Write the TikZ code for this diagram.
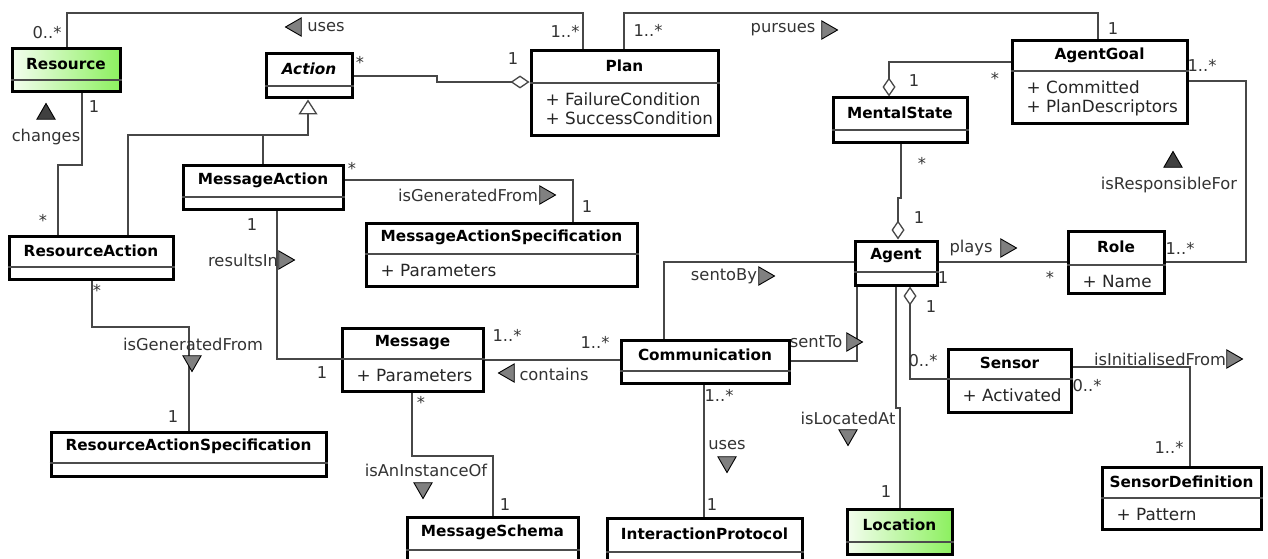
\documentclass[tikz,border=0pt]{standalone}
\usepackage{fontspec}
\setmainfont{DejaVu Sans}
\usetikzlibrary{arrows.meta,calc,fit,shapes.geometric}

\definecolor{umlgreen}{RGB}{140,240,95}
\pgfdeclarelayer{paper}
\pgfdeclarelayer{links}
\pgfsetlayers{paper,links,main}

\tikzset{
  classframe/.style={draw=black, line width=3pt, inner sep=0pt, fill=white},
  greenclass/.style={left color=umlgreen!10, right color=umlgreen},
  sepline/.style={draw=black!70, line width=1.2pt},
  classtitle/.style={font=\fontsize{15.3}{18}\selectfont\bfseries, inner sep=0pt},
  attr/.style={font=\fontsize{16.8}{19}\selectfont, inner sep=0pt, text=black!85},
  assoc/.style={draw=black!72, line width=1.3pt},
  lbl/.style={font=\fontsize{16.3}{19}\selectfont, text=black!80, inner sep=0pt},
  mult/.style={lbl},
  dirtri/.style={regular polygon, regular polygon sides=3, draw=black, line width=0.9pt,
                 fill=black!50, minimum size=21pt, inner sep=0pt},
  tright/.style={dirtri, shape border rotate=270},
  tleft/.style={dirtri, shape border rotate=90},
  tdown/.style={dirtri, shape border rotate=180},
  tup/.style={dirtri, fill=black!75},
  agg/.style={-{Diamond[open,length=19pt,width=13pt]}},
  gen/.style={-{Triangle[open,length=15pt,width=19pt]}},
}

% class box: [style] name, top-left, bottom-right, separator y, title
\newcommand\classbox[6][]{%
  \node[classframe,#1,fit={(#3)(#4)}] (#2) {};
  \coordinate (#2-sep) at (0,#5);
  \draw[sepline] (#2.west |- #2-sep) -- (#2.east |- #2-sep);
  \node[classtitle] (#2-title) at ($(#2.north)!0.5!(#2.north |- #2-sep)$) {#6};
}
% attribute lines below the separator
\newcommand\classattrs[2]{%
  \foreach \a [count=\i] in {#2} {
    \node[attr, anchor=base west] (#1-attr-\i) at ($(#1.west |- #1-sep)+(16,{22.5+(\i-1)*19})$) {\a};
  }
}

\begin{document}
\begin{tikzpicture}[x=1pt,y=-1pt]
\useasboundingbox (0,0) rectangle (1268,559);
\begin{pgfonlayer}{paper}
\fill[white] (0,0) rectangle (1268,559);
\end{pgfonlayer}
\clip (0,0) rectangle (1268,559);

% ---------- classes ----------
\classbox[greenclass]{resource}{12,49}{120,92}{80}{Resource}
\classbox{action}{266,54}{352,98}{86}{\textit{Action}}
\classbox{plan}{531,51}{718,135}{83}{Plan}
\classattrs{plan}{+ FailureCondition, + SuccessCondition}
\classbox{agentgoal}{1012,41}{1187,124}{71}{AgentGoal}
\classattrs{agentgoal}{+ Committed, + PlanDescriptors}
\classbox{mentalstate}{833,98}{967,142}{130}{MentalState}
\classbox{messageaction}{183,165}{343,209}{197}{MessageAction}
\classbox{resourceaction}{9,236}{173,279}{267}{ResourceAction}
\classbox{mas}{366,223}{637,286}{254}{MessageActionSpecification}
\classattrs{mas}{+ Parameters}
\classbox{message}{342,328}{483,391}{359}{Message}
\classattrs{message}{+ Parameters}
\classbox{communication}{621,340}{789,383}{371}{Communication}
\classbox{agent}{855,241}{937,285}{272}{Agent}
\classbox{role}{1068,231}{1164,293}{265}{Role}
\classattrs{role}{+ Name}
\classbox{sensor}{948,349}{1071,412}{379}{Sensor}
\classattrs{sensor}{+ Activated}
\classbox{sensordef}{1102,467}{1261,529}{498}{SensorDefinition}
\classattrs{sensordef}{+ Pattern}
\classbox[greenclass]{location}{847,509}{952,554}{542}{Location}
\classbox{ras}{51,432}{326,476}{463}{ResourceActionSpecification}
\classbox{messageschema}{407,517}{578,575}{550}{MessageSchema}
\classbox{protocol}{607,518}{802,575}{552}{InteractionProtocol}

\begin{pgfonlayer}{links}
% ---------- connectors ----------
% Resource -- Plan (uses)
\draw[assoc] (67,0 |- resource.north) |- (583,13) -- (583,0 |- plan.north);
% Plan -- AgentGoal (pursues)
\draw[assoc] (624,0 |- plan.north) |- (1098,13) -- (1098,0 |- agentgoal.north);
% Action -- Plan (aggregation)
\draw[assoc,agg] (action.east |- 0,76) -- (437,76) -- (437,82) -- (plan.west |- 0,82);
% generalisations to Action
\draw[assoc] (263,0 |- messageaction.north) |- (308,135);
\draw[assoc,gen] (128,0 |- resourceaction.north) |- (308,135) -- (308,0 |- action.south);
% Resource -- ResourceAction (changes)
\draw[assoc] (82,0 |- resource.south) |- (58,165) -- (58,0 |- resourceaction.north);
% MessageAction -- MessageActionSpecification
\draw[assoc] (messageaction.east |- 0,180) -| (573,0 |- mas.north);
% MessageAction -- Message (resultsIn)
\draw[assoc] (277,0 |- messageaction.south) |- (message.west |- 0,359);
% ResourceAction -- ResourceActionSpecification
\draw[assoc] (92,0 |- resourceaction.south) |- (189,327) -- (189,0 |- ras.north);
% Message -- Communication (contains)
\draw[assoc] (message.east |- 0,360) -- (communication.west |- 0,360);
% Message -- MessageSchema (isAnInstanceOf)
\draw[assoc] (412,0 |- message.south) |- (493,456) -- (493,0 |- messageschema.north);
% Communication -- InteractionProtocol (uses)
\draw[assoc] (704,0 |- communication.south) -- (704,0 |- protocol.north);
% Communication -- Agent (sentoBy, sentTo)
\draw[assoc] (664,0 |- communication.north) |- (agent.west |- 0,262);
\draw[assoc] (communication.east |- 0,361) -| (857,0 |- agent.south);
% MentalState -- Agent (aggregation)
\draw[assoc,agg] (901,0 |- mentalstate.south) -- (901,198) -- (898,198) -- (898,0 |- agent.north);
% AgentGoal -- MentalState (aggregation)
\draw[assoc,agg] (agentgoal.west |- 0,62) -| (889,0 |- mentalstate.north);
% Agent -- Role (plays)
\draw[assoc] (agent.east |- 0,262) -- (role.west |- 0,262);
% AgentGoal -- Role (isResponsibleFor)
\draw[assoc] (agentgoal.east |- 0,81) -| (1246,262) -- (role.east |- 0,262);
% Sensor -- Agent (aggregation)
\draw[assoc,agg] (sensor.west |- 0,379) -| (910,0 |- agent.south);
% Agent -- Location (isLocatedAt)
\draw[assoc] (896,0 |- agent.south) -- (896,408) -- (900,408) -- (900,0 |- location.north);
% Sensor -- SensorDefinition (isInitialisedFrom)
\draw[assoc] (sensor.east |- 0,367) -| (1190,0 |- sensordef.north);

% ---------- association names and multiplicities ----------
\node[mult] (m-res-uses) at (47,33) {0..*};
\node[tleft] (t-uses) at (296,27) {};
\node[lbl] (l-uses) at (326,27) {uses};
\node[mult] (m-plan-uses) at (565,31) {1..*};
\node[mult] (m-plan-act) at (513,59) {1};
\node[mult] (m-act-plan) at (360,62) {*};
\node[mult] (m-plan-goal) at (648,30) {1..*};
\node[lbl] (l-pursues) at (783,30) {pursues};
\node[tright] (t-pursues) at (827,30) {};
\node[mult] (m-goal-plan) at (1113,29) {1};
\node[mult] (m-ms-goal) at (914,81) {1};
\node[mult] (m-goal-ms) at (995,78) {*};
\node[mult] (m-goal-role) at (1202,65) {1..*};
\node[tup] (t-resp) at (1173,162) {};
\node[lbl] (l-resp) at (1169,185) {isResponsibleFor};
\node[mult] (m-ms-agent) at (922,163) {*};
\node[mult] (m-agent-ms) at (919,218) {1};
\node[lbl] (l-plays) at (971,248) {plays};
\node[tright] (t-plays) at (1006,248) {};
\node[mult] (m-agent-role) at (943,278) {1};
\node[mult] (m-role-agent) at (1050,277) {*};
\node[mult] (m-role-goal) at (1180,248) {1..*};
\node[mult] (m-res-ra) at (94,107) {1};
\node[tup] (t-changes) at (46,114) {};
\node[lbl] (l-changes) at (46,137) {changes};
\node[mult] (m-ra-res) at (43,220) {*};
\node[mult] (m-ma-mas) at (352,168) {*};
\node[lbl] (l-genmas) at (468,195) {isGeneratedFrom};
\node[tright] (t-genmas) at (545,195) {};
\node[mult] (m-mas-ma) at (587,207) {1};
\node[mult] (m-ma-msg) at (252,225) {1};
\node[lbl] (l-results) at (243,260) {resultsIn};
\node[tright] (t-results) at (284,260) {};
\node[mult] (m-ra-ras) at (97,290) {*};
\node[lbl] (l-genras) at (193,344) {isGeneratedFrom};
\node[tdown] (t-genras) at (192,361) {};
\node[mult] (m-ras-ra) at (173,417) {1};
\node[mult] (m-msg-ma) at (322,373) {1};
\node[mult] (m-msg-com) at (507,335) {1..*};
\node[mult] (m-com-msg) at (595,342) {1..*};
\node[tleft] (t-contains) at (509,373) {};
\node[lbl] (l-contains) at (554,374) {contains};
\node[lbl] (l-sentoby) at (724,276) {sentoBy};
\node[tright] (t-sentoby) at (764,276) {};
\node[lbl] (l-sentto) at (816,342) {sentTo};
\node[tright] (t-sentto) at (852,342) {};
\node[mult] (m-msg-sch) at (421,402) {*};
\node[lbl] (l-instance) at (426,470) {isAnInstanceOf};
\node[tdown] (t-instance) at (423,488) {};
\node[mult] (m-sch-msg) at (505,505) {1};
\node[mult] (m-com-prot) at (719,395) {1..*};
\node[lbl] (l-uses2) at (727,445) {uses};
\node[tdown] (t-uses2) at (727,462) {};
\node[mult] (m-prot-com) at (712,505) {1};
\node[mult] (m-agent-sen) at (931,307) {1};
\node[mult] (m-sen-agent) at (923,361) {0..*};
\node[lbl] (l-located) at (848,418) {isLocatedAt};
\node[tdown] (t-located) at (848,435) {};
\node[mult] (m-loc-agent) at (886,492) {1};
\node[lbl] (l-init) at (1160,359) {isInitialisedFrom};
\node[tright] (t-init) at (1232,359) {};
\node[mult] (m-sen-def) at (1087,386) {0..*};
\node[mult] (m-def-sen) at (1169,447) {1..*};
\end{pgfonlayer}
\end{tikzpicture}
\end{document}
